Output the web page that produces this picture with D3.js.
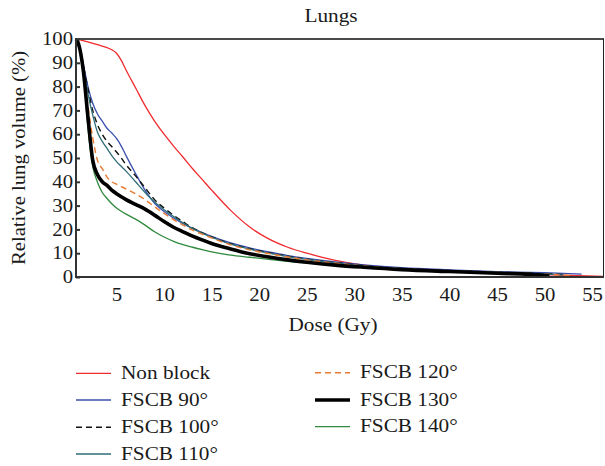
<!DOCTYPE html>
<html>
<head>
<meta charset="utf-8">
<script src="https://cdn.jsdelivr.net/npm/d3@7"></script>
<style>
  html, body { margin: 0; padding: 0; background: #fff; }
  svg { display: block; }
  text { font-family: "Liberation Serif", "Times New Roman", serif; fill: #1a1a1a; }
</style>
</head>
<body>
<svg id="chart" width="605" height="466"></svg>
<script>
// ---- Data ----
const title = "Lungs";
const xLabel = "Dose (Gy)";
const yLabel = "Relative lung volume (%)";
const xTicks = [5, 10, 15, 20, 25, 30, 35, 40, 45, 50, 55];
const yTicks = [0, 10, 20, 30, 40, 50, 60, 70, 80, 90, 100];

const dose = [0.74, 1, 1.5, 2, 2.5, 3, 3.5, 4, 4.5, 5, 5.5, 6, 7, 8, 9, 10, 11, 12, 13, 14, 15, 17, 19, 21, 23, 25, 28, 31, 35, 40, 45, 50];

const nonBlock = [100, 99.8, 99.3, 98.8, 98.2, 97.6, 97, 96.4, 95.5, 94, 91, 87, 79.5, 72, 65.5, 60, 55, 50.3, 45.5, 41, 36.5, 28, 21, 16, 12.5, 10, 7, 5, 3.6, 2.6, 1.8, 1.0];
const fscb90  = [100, 98.5, 89.5, 80, 73, 68.5, 65.5, 62.5, 60.5, 58.2, 55, 51, 43.5, 36.5, 31, 27.5, 24.8, 22.4, 20.4, 18.7, 17.1, 14.3, 12.2, 10.5, 9.0, 7.8, 6.3, 5.1, 3.9, 3.0, 2.3, 1.8];
const fscb100 = [100, 98.4, 89, 79, 70, 64, 60, 57, 54.8, 52.5, 50, 47.2, 42.5, 37.5, 32.5, 29, 25.9, 23.2, 20.6, 18.6, 16.9, 14, 11.9, 10.2, 8.7, 7.5, 6.0, 4.8, 3.6, 2.7, 2.0, 1.4];
const fscb110 = [100, 98.3, 88.5, 77, 68, 60.8, 57, 54, 51, 48.5, 46.5, 44.5, 40, 35.5, 31.5, 28.3, 25.4, 22.7, 20.3, 18.4, 16.7, 13.8, 11.7, 10.0, 8.6, 7.4, 5.9, 4.7, 3.5, 2.6, 2.0, 1.3];
const fscb120 = [100, 98.2, 88, 72, 58.5, 49, 45.5, 42, 40, 39, 38, 37, 35, 32.5, 29.5, 26.7, 24.1, 21.8, 19.7, 18, 16.4, 13.5, 11.4, 9.8, 8.4, 7.2, 5.8, 4.6, 3.4, 2.5, 1.9, 1.2];
const fscb130 = [100, 98, 87, 67, 49, 43, 40, 38.5, 36.5, 35, 33.7, 32.5, 30.5, 28.5, 26, 23.3, 20.9, 19, 17.2, 15.6, 14.1, 11.8, 9.8, 8.4, 7.2, 6.2, 5.0, 4.1, 3.1, 2.3, 1.6, 0.7];
const fscb140 = [100, 98, 86, 62.5, 46.5, 39.8, 35.5, 33, 30.8, 29, 27.6, 26.4, 24.3, 21.8, 19, 16.8, 15, 13.6, 12.5, 11.5, 10.6, 9.2, 8.3, 7.4, 6.6, 5.9, 4.8, 4.0, 3.2, 2.4, 1.8, 1.1];

// tail end points (last dose, last value) per series
const tailDose  = [56.2, 53.9, 52, 52, 53, 50.5, 50.5];
const tailValue = [0.2, 1.2, 1.0, 0.9, 0.6, 0.4, 0.8];

const seriesNames  = ["Non block", "FSCB 90°", "FSCB 100°", "FSCB 110°", "FSCB 120°", "FSCB 130°", "FSCB 140°"];
const seriesValues = [nonBlock, fscb90, fscb100, fscb110, fscb120, fscb130, fscb140];
const seriesColors = ["#ef2b2f", "#3a4fae", "#111111", "#2f6d78", "#e97a31", "#000000", "#2f8a3d"];
const seriesWidths = [1.3, 1.3, 1.4, 1.3, 1.4, 3.6, 1.3];
const seriesDash   = [null, null, "6,4", null, "6,4", null, null];

// ---- Layout ----
const svg = d3.select("#chart");
const X0 = 76, X1 = 603.5, Y0 = 39, Y1 = 277;
const SX = 1.15; // horizontal text stretch to mimic wider reference face

const x = d3.scaleLinear().domain([0.74, 56.2]).range([X0, X1]);
const y = d3.scaleLinear().domain([0, 100]).range([Y1, Y0]);

// Lines
const line = d3.line()
  .x(d => x(d[0]))
  .y(d => y(d[1]))
  .curve(d3.curveMonotoneX);

const plot = svg.append("g");
const order = [0, 1, 2, 3, 4, 6, 5];
order.forEach(i => {
  const pts = dose.map((d, k) => [d, seriesValues[i][k]]).filter(p => p[0] < tailDose[i]);
  pts.push([tailDose[i], tailValue[i]]);
  plot.append("path")
    .datum(pts)
    .attr("fill", "none")
    .attr("stroke", seriesColors[i])
    .attr("stroke-width", seriesWidths[i])
    .attr("stroke-dasharray", seriesDash[i])
    .attr("d", line);
});

// Frame
const frameColor = "#4a4a4a";
svg.append("line").attr("x1", X0 - 1).attr("x2", X1 + 0.5).attr("y1", Y0).attr("y2", Y0)
  .attr("stroke", frameColor).attr("stroke-width", 2);
svg.append("line").attr("x1", X1).attr("x2", X1).attr("y1", Y0).attr("y2", Y1)
  .attr("stroke", "#222").attr("stroke-width", 1);
svg.append("line").attr("x1", X0).attr("x2", X0).attr("y1", Y0 - 1).attr("y2", Y1 + 1)
  .attr("stroke", "#333").attr("stroke-width", 2);
svg.append("line").attr("x1", X0 - 1).attr("x2", X1 + 0.5).attr("y1", Y1).attr("y2", Y1)
  .attr("stroke", "#333").attr("stroke-width", 2);

// Y axis
const yAxis = d3.axisLeft(y).tickValues(yTicks).tickSizeInner(-4).tickSizeOuter(0).tickPadding(2.6);
const gy = svg.append("g").attr("transform", `translate(${X0},0)`).call(yAxis);
gy.select(".domain").remove();
gy.selectAll(".tick line").attr("stroke", "#333").attr("stroke-width", 2);
gy.selectAll(".tick text")
  .attr("font-family", "Liberation Serif, serif").attr("font-size", 18).attr("fill", "#1a1a1a")
  .attr("transform", `scale(${SX},1)`);

// X axis
const xAxis = d3.axisBottom(x).tickValues(xTicks).tickSize(0).tickPadding(11.5);
const gx = svg.append("g").attr("transform", `translate(0,${Y1})`).call(xAxis);
gx.select(".domain").remove();
gx.selectAll(".tick text")
  .attr("font-family", "Liberation Serif, serif").attr("font-size", 18).attr("fill", "#1a1a1a")
  .attr("transform", `scale(${SX},1)`);

// Title & labels
function stretchedText(cx, cy, str, size, rotate) {
  const g = svg.append("g").attr("transform", `translate(${cx},${cy})` + (rotate ? ` rotate(${rotate})` : ""));
  g.append("text").attr("text-anchor", "middle").attr("font-size", size)
    .attr("transform", `scale(${SX},1)`).text(str);
}
stretchedText(331, 22, title, 18.5);
stretchedText(333, 331, xLabel, 18.5);
stretchedText(25, 158, yLabel, 18, -90);

// Legend
const legCols = [{lx: 76, tx: 121, rows: [373.3, 400, 427.3, 454]}, {lx: 315, tx: 360, rows: [372.7, 400, 426.7]}];
const legAssign = [[0, 0], [0, 1], [0, 2], [0, 3], [1, 0], [1, 1], [1, 2]];
seriesNames.forEach((name, i) => {
  const col = legCols[legAssign[i][0]];
  const ly = col.rows[legAssign[i][1]];
  svg.append("line")
    .attr("x1", col.lx).attr("x2", col.lx + 35).attr("y1", ly).attr("y2", ly)
    .attr("stroke", seriesColors[i])
    .attr("stroke-width", seriesWidths[i])
    .attr("stroke-dasharray", seriesDash[i]);
  const g = svg.append("g").attr("transform", `translate(${col.tx},${ly + 5.5})`);
  g.append("text").attr("font-size", 18.5).attr("transform", `scale(${SX},1)`).text(name);
});
</script>
</body>
</html>
